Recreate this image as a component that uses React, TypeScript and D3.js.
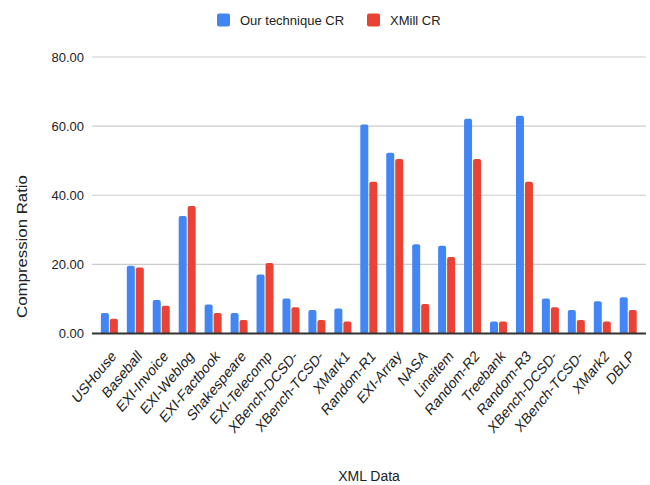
import React from "react";
import * as d3 from "d3";

// Datasets on the x axis
const categories = [
  "USHouse", "Baseball", "EXI-Invoice", "EXI-Weblog", "EXI-Factbook",
  "Shakespeare", "EXI-Telecomp", "XBench-DCSD-", "XBench-TCSD-", "XMark1",
  "Random-R1", "EXI-Array", "NASA", "Lineitem", "Random-R2",
  "Treebank", "Random-R3", "XBench-DCSD-", "XBench-TCSD-", "XMark2", "DBLP",
];

// Compression ratio per dataset
const ourTechnique = [
  5.9, 19.6, 9.7, 34.0, 8.4, 5.9, 17.1, 10.1, 6.8, 7.2,
  60.5, 52.3, 25.8, 25.4, 62.1, 3.5, 63.0, 10.1, 6.8, 9.3, 10.5,
];
const xmill = [
  4.3, 19.1, 8.0, 36.9, 5.9, 3.9, 20.4, 7.6, 3.9, 3.5,
  43.9, 50.5, 8.5, 22.1, 50.5, 3.5, 43.9, 7.6, 3.9, 3.5, 6.8,
];

const seriesNames = ["Our technique CR", "XMill CR"];
const seriesColors = ["#4285f4", "#ea4335"];
const yTicks = [0, 20, 40, 60, 80];

const W = 650;
const H = 485;
const plotLeft = 92;
const plotRight = 646;
const yTop = 57;
const yBottom = 333.5;
const FONT = "Arial, 'Liberation Sans', sans-serif";
// vertical stretch applied to rotated labels
const STRETCH = 1.2;

function roundedTopBar(x: number, y: number, w: number, h: number, r: number) {
  const rr = Math.min(r, h, w / 2);
  return `M${x},${y + h}V${y + rr}Q${x},${y} ${x + rr},${y}H${x + w - rr}Q${x + w},${y} ${x + w},${y + rr}V${y + h}Z`;
}

export default function App() {
  const x = d3
    .scaleBand<number>()
    .domain(categories.map((_, i) => i))
    .range([96.4, 641.2]);
  const y = d3.scaleLinear().domain([0, 80]).range([yBottom, yTop]);

  const barW = 8;
  const gap = 1;
  const series = [ourTechnique, xmill];

  return (
    <svg
      width={W}
      height={H}
      style={{ position: "absolute", left: 0, top: 0, background: "#fff" }}
      fontFamily={FONT}
    >
      <rect width={W} height={H} fill="#fff" />

      {/* legend */}
      <g>
        <rect x={217} y={13.5} width={13} height={13} rx={2} fill={seriesColors[0]} />
        <text x={240} y={25} fontSize={13} fill="#222">{seriesNames[0]}</text>
        <rect x={367} y={13.5} width={13} height={13} rx={2} fill={seriesColors[1]} />
        <text x={390} y={25} fontSize={13} fill="#222">{seriesNames[1]}</text>
      </g>

      {/* gridlines and y tick labels */}
      {yTicks.map((t) => (
        <g key={t}>
          {t !== 0 && (
            <line x1={plotLeft} x2={plotRight} y1={y(t)} y2={y(t)} stroke="#cccccc" strokeWidth={1.2} />
          )}
          <text x={84} y={y(t)} dy="0.35em" textAnchor="end" fontSize={13} fill="#222">
            {d3.format(".2f")(t)}
          </text>
        </g>
      ))}

      {/* bars */}
      {categories.map((_, i) => {
        const cx = (x(i) as number) + x.bandwidth() / 2;
        return (
          <g key={i}>
            {series.map((vals, s) => {
              const bx = s === 0 ? cx - gap / 2 - barW : cx + gap / 2;
              const top = y(vals[i]);
              return (
                <path
                  key={s}
                  d={roundedTopBar(bx, top, barW, yBottom - top, 2)}
                  fill={seriesColors[s]}
                />
              );
            })}
          </g>
        );
      })}

      {/* baseline */}
      <line x1={plotLeft} x2={plotRight} y1={yBottom} y2={yBottom} stroke="#333" strokeWidth={2} />

      {/* x tick labels */}
      {categories.map((c, i) => {
        const cx = (x(i) as number) + x.bandwidth() / 2;
        return (
          <text
            key={i}
            transform={`translate(${cx + 7.5},${357}) scale(1,${STRETCH}) rotate(-45)`}
            textAnchor="end"
            fontSize={13}
            fill="#222"
          >
            {c}
          </text>
        );
      })}

      {/* axis titles */}
      <text x={(plotLeft + plotRight) / 2} y={481} textAnchor="middle" fontSize={14} fill="#222">
        XML Data
      </text>
      <text
        transform={`translate(27,246.5) scale(1,${STRETCH}) rotate(-90)`}
        textAnchor="middle"
        fontSize={14}
        fill="#222"
      >
        Compression Ratio
      </text>
    </svg>
  );
}
